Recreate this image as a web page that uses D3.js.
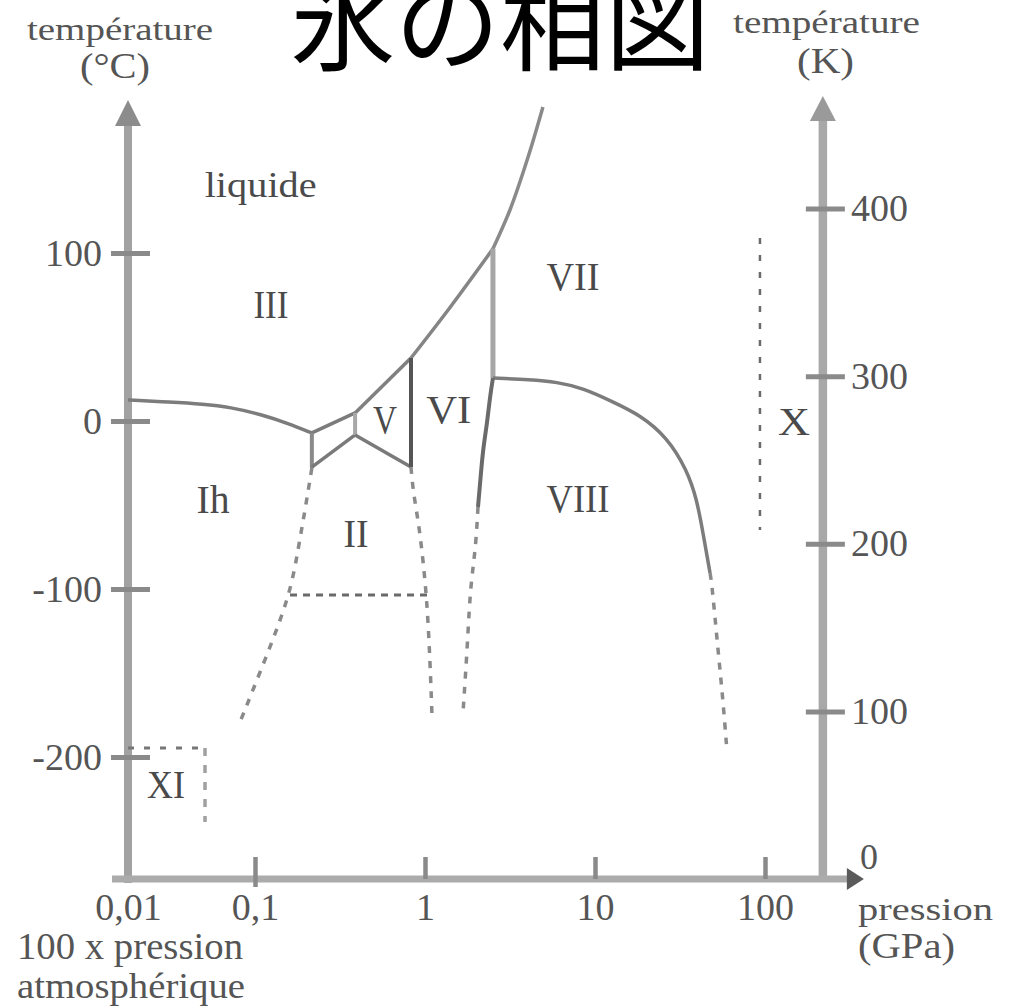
<!DOCTYPE html>
<html><head><meta charset="utf-8">
<script src="https://cdn.jsdelivr.net/npm/d3@7"></script>
<style>html,body{margin:0;padding:0;background:#fff;overflow:hidden}</style>
</head><body>
<svg id="c" width="1012" height="1007"></svg>
<script>
// ---------------- data ----------------
const chartTitle = "氷の相図";
const xTickValues = [0.01, 0.1, 1, 10, 100];
const xTickLabels = ["0,01", "0,1", "1", "10", "100"];
const celsiusTicks = [100, 0, -100, -200];
const kelvinTicks = [0, 100, 200, 300, 400];

const phaseNames  = ["liquide", "III", "V", "VI", "VII", "Ih", "II", "VIII", "X", "XI"];
const phaseLabelP = [0.108, 0.124, 0.582, 1.38, 7.42, 0.0467, 0.393, 7.94, 148, 0.0199];
const phaseLabelT = [133.3, 61.3, -7.1, -1.2, 78, -54.8, -75, -54.2, -8.3, -224.4];

// boundaries: [pressure GPa, temperature °C]
const meltIh     = [[0.01,12.5],[0.0214,11.3],[0.039,10.1],[0.0635,8.3],[0.1115,3.6],[0.154,-1.2],[0.216,-7.1]];
const meltIII    = [[0.216,-7.1],[0.388,4.8]];
const meltV      = [[0.388,4.8],[0.827,37.5]];
const meltVI     = [[0.827,37.5],[1.403,67.6],[2.51,102.5]];
const meltVII    = [[2.51,102.5],[3.16,125.6],[4.04,157.1],[4.94,186.9]];
const lineIhIII  = [[0.216,-7.1],[0.216,-28]];
const lineIIIII  = [[0.216,-27.4],[0.388,-8.3]];
const lineIIIV   = [[0.388,4.8],[0.388,-8.3]];
const lineVII    = [[0.388,-8.3],[0.827,-27.4]];
const lineVVI    = [[0.827,37.5],[0.827,-27.4]];
const lineIIVI   = [[0.827,-27.4],[0.850,-41.1],[0.910,-58.9],[0.960,-76.8],[1.027,-106.5],[1.070,-142.3],[1.099,-175]];
const lineIhII   = [[0.216,-28],[0.197,-53],[0.179,-76.8],[0.1607,-103.6],[0.1146,-142.3],[0.0762,-179.2]];
const lineIIlow  = [[0.1607,-103.6],[1.04,-103.6]];
const lineVIVII  = [[2.51,102.5],[2.51,25.6]];
const lineVIIVIII= [[2.51,25.6],[4.15,24.6],[5.97,23.2],[8.50,19.6],[12.8,11.3],[18.4,3.6],[26.5,-9.5],[34.8,-29.2],[39.8,-47],[43.2,-66.7],[47.5,-90.5]];
const lineVIIVIIIlow = [[47.5,-90.5],[48.8,-97.6],[52.9,-136.3],[56.6,-166],[59.8,-197]];
const lineVIVIII = [[2.51,25.6],[2.41,14.3],[2.32,-1.2],[2.19,-17.3],[2.11,-36.9],[2.05,-51.2]];
const lineVIVIIIlow = [[2.05,-51.2],[2.0,-70.8],[1.92,-86.9],[1.84,-102.4],[1.77,-136.3],[1.67,-175]];
const lineX      = [[93.4,108.9],[93.4,-64.9]];
const lineXIh    = [[0.01,-194.6],[0.0404,-194.6]];
const lineXIv    = [[0.0404,-194.6],[0.0404,-238.7]];

// ---------------- styles / layout ----------------
const boundaries = [
  {d: meltIh,  c:"#7c7c7c", w:3.5, curve:"basis"},
  {d: meltIII, c:"#7c7c7c", w:3.5},
  {d: meltV,   c:"#808080", w:3.5},
  {d: meltVI,  c:"#858585", w:3.5, curve:"cr"},
  {d: meltVII, c:"#8a8a8a", w:3.5, curve:"cr"},
  {d: lineIhIII, c:"#8a8a8a", w:4},
  {d: lineIIIII, c:"#7a7a7a", w:3.5},
  {d: lineIIIV,  c:"#a8a8a8", w:4},
  {d: lineVII,   c:"#7a7a7a", w:3.5},
  {d: lineVVI,   c:"#555555", w:4},
  {d: lineIIVI,  c:"#8a8a8a", w:3.5, dash:"7,8", curve:"basis"},
  {d: lineIhII,  c:"#8a8a8a", w:3.5, dash:"7,8", curve:"basis"},
  {d: lineIIlow, c:"#6a6a6a", w:3, dash:"7,6"},
  {d: lineVIVII, c:"#a6a6a6", w:5},
  {d: lineVIIVIII, c:"#7c7c7c", w:3.5, curve:"basis"},
  {d: lineVIIVIIIlow, c:"#8a8a8a", w:3.5, dash:"7,8", curve:"basis"},
  {d: lineVIVIII, c:"#6a6a6a", w:4, curve:"basis"},
  {d: lineVIVIIIlow, c:"#8a8a8a", w:3.5, dash:"7,8", curve:"basis"},
  {d: lineX,   c:"#6a6a6a", w:2.5, dash:"6,11"},
  {d: lineXIh, c:"#777777", w:3, dash:"6,10"},
  {d: lineXIv, c:"#a0a0a0", w:3.5, dash:"8,9"}
];
const curves = {basis: d3.curveBasis, cr: d3.curveCatmullRom};
const labelWidth = {liquide:112, III:35, V:24, VI:45, VII:53, Ih:33, II:25, VIII:63, X:32, XI:38};
const serif = "'Liberation Serif','DejaVu Serif',serif";
const textGrey = "#555555";

// ---------------- scales ----------------
const x  = d3.scaleLog().domain([0.01, 0.1, 1, 10, 100, 1000]).range([128, 255, 425, 595, 765, 935]);
const yC = d3.scaleLinear().domain([-200, 100]).range([757, 253]);
const yK = d3.scaleLinear().domain([0, 400]).range([879, 208.6]);

const svg = d3.select("#c");
svg.append("rect").attr("width",1012).attr("height",1007).attr("fill","#fff");

const x0 = x(0.01), xR = x(219), yBase = yK(0);
const axisTop = 100;

// ---------------- axes lines + arrows ----------------
const axisG = svg.append("g");
axisG.append("line").attr("x1", x0).attr("x2", x0).attr("y1", axisTop + 22).attr("y2", yBase + 4)
  .attr("stroke", "#a2a2a2").attr("stroke-width", 8);
axisG.append("line").attr("x1", xR).attr("x2", xR).attr("y1", axisTop + 18).attr("y2", yBase)
  .attr("stroke", "#a8a8a8").attr("stroke-width", 8.5);
axisG.append("line").attr("x1", x0 - 16).attr("x2", xR + 26).attr("y1", yBase).attr("y2", yBase)
  .attr("stroke", "#ababab").attr("stroke-width", 7);
axisG.append("path").attr("d", `M${x0},${axisTop} L${x0-13},${axisTop+26} L${x0+13},${axisTop+26} Z`).attr("fill", "#8c8c8c");
axisG.append("path").attr("d", `M${xR},${axisTop-4} L${xR-13},${axisTop+21} L${xR+13},${axisTop+21} Z`).attr("fill", "#9a9a9a");
axisG.append("path").attr("d", `M${xR+41},${yBase} L${xR+24},${yBase-11} L${xR+24},${yBase+11} Z`).attr("fill", "#5a5a5a");

// left axis (°C)
const gL = svg.append("g").attr("transform", `translate(${x0},0)`)
  .call(d3.axisLeft(yC).tickValues(celsiusTicks).tickFormat(d => String(d)).tickSize(0).tickPadding(26));
gL.select(".domain").remove();
gL.selectAll(".tick line").attr("x1", -17).attr("x2", 22).attr("stroke", "#8a8a8a").attr("stroke-width", 5);
gL.selectAll(".tick text").attr("font-family", serif).attr("font-size", 38).attr("fill", textGrey);

// right axis (K)
const gR = svg.append("g").attr("transform", `translate(${xR},0)`)
  .call(d3.axisRight(yK).tickValues(kelvinTicks).tickFormat(d => String(d)).tickSize(0).tickPadding(28));
gR.select(".domain").remove();
gR.selectAll(".tick line").attr("x1", -17).attr("x2", 22).attr("stroke", "#8a8a8a").attr("stroke-width", 5)
  .filter(d => d === 0).remove();
gR.selectAll(".tick text").attr("font-family", serif).attr("font-size", 38).attr("fill", textGrey)
  .filter(d => d === 0).attr("x", 37).attr("y", -22).attr("font-size", 36);

// bottom axis (GPa)
const gB = svg.append("g").attr("transform", `translate(0,${yBase})`)
  .call(d3.axisBottom(x).tickValues(xTickValues).tickFormat((d, i) => xTickLabels[i]).tickSize(0));
gB.select(".domain").remove();
gB.selectAll(".tick line").attr("y1", -22).attr("y2", 0).attr("stroke", "#8a8a8a").attr("stroke-width", 4.5)
  .filter(d => d === 0.01).remove();
gB.selectAll(".tick line").filter(d => d === 0.1).attr("y2", 8);
gB.selectAll(".tick text").attr("y", 41).attr("dy", 0).attr("font-family", serif).attr("font-size", 38).attr("fill", textGrey);

// ---------------- phase boundaries ----------------
const lineGen = d3.line().x(d => x(d[0])).y(d => yC(d[1]));
const bg = svg.append("g").attr("fill", "none");
boundaries.forEach(b => {
  lineGen.curve(curves[b.curve] || d3.curveLinear);
  bg.append("path").attr("d", lineGen(b.d)).attr("stroke", b.c).attr("stroke-width", b.w)
    .attr("stroke-dasharray", b.dash || null).attr("stroke-linejoin", "round");
});

// ---------------- phase labels ----------------
svg.append("g").selectAll("text").data(phaseNames).join("text")
  .attr("x", (d, i) => x(phaseLabelP[i])).attr("y", (d, i) => yC(phaseLabelT[i]))
  .attr("text-anchor", "middle").attr("font-family", serif)
  .attr("font-size", d => d === "liquide" ? 36 : 40)
  .attr("textLength", d => labelWidth[d]).attr("lengthAdjust", "spacingAndGlyphs")
  .attr("fill", "#4a4a4a").text(d => d);

// ---------------- axis titles ----------------
const titles = [
  {t:"température", x:27, y:40, fs:31, w:186},
  {t:"(°C)", x:80, y:78, fs:36, w:70},
  {t:"température", x:733, y:33, fs:31, w:187},
  {t:"(K)", x:797, y:73, fs:36, w:57},
  {t:"pression", x:858, y:920, fs:32, w:135},
  {t:"(GPa)", x:858, y:958, fs:36, w:97},
  {t:"100 x pression", x:17, y:959, fs:38, w:226},
  {t:"atmosphérique", x:17, y:998, fs:36, w:228}
];
svg.append("g").selectAll("text").data(titles).join("text")
  .attr("x", d => d.x).attr("y", d => d.y).attr("font-family", serif).attr("font-size", d => d.fs)
  .attr("textLength", d => d.w).attr("lengthAdjust", "spacingAndGlyphs")
  .attr("fill", textGrey).text(d => d.t);

// ---------------- title (clipped at the top edge, as in the reference) ----------------
svg.append("text").attr("x", 500).attr("y", 62).attr("text-anchor", "middle")
  .attr("font-family", "'Noto Sans CJK JP','Noto Sans CJK SC',sans-serif").attr("font-size", 105)
  .attr("fill", "#000").text(chartTitle);
</script>
</body></html>
